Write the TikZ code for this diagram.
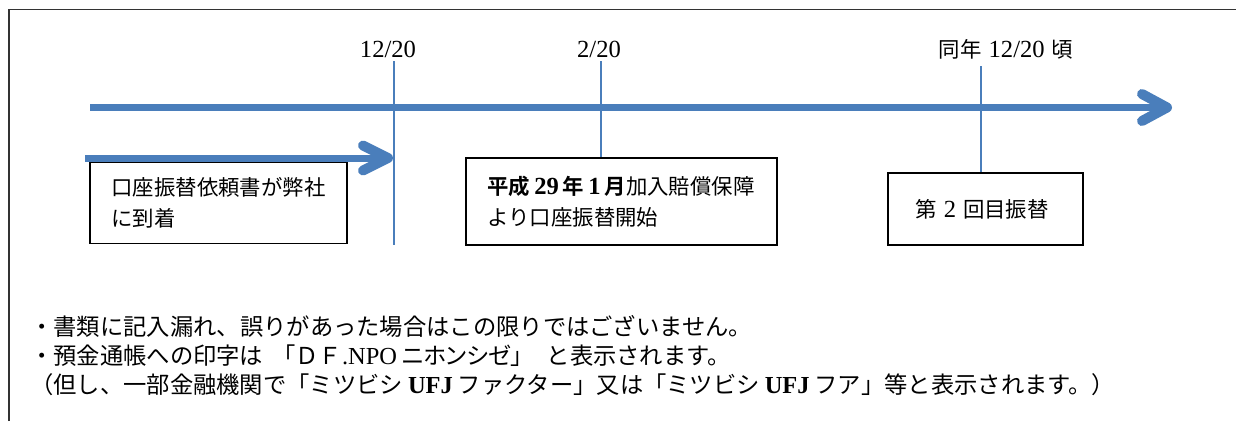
\documentclass[tikz,border=0pt]{standalone}
\usepackage{fontspec}
\setmainfont{Noto Sans CJK JP}[BoldFont={Noto Sans CJK JP Bold}]
\newfontfamily\lt{Liberation Serif}[Scale=1.15]
\newfontfamily\ltn{Liberation Serif}[Scale=1.05]
\newcommand\prop{\addfontfeature{RawFeature=+palt}}
\usetikzlibrary{calc}
\definecolor{tlblue}{RGB}{74,126,187}
\tikzset{
  frame/.style={line width=1.3pt, draw=black!80},
  shaft/.style={line width=7pt, draw=tlblue},
  barb/.style={line width=10pt, draw=tlblue, line cap=round, line join=round},
  tick/.style={line width=2pt, draw=tlblue},
  box/.style={draw=black, line width=1.6pt, inner sep=0pt, font=\fontsize{21.4}{31}\selectfont},
  lbl/.style={inner sep=0pt, font=\fontsize{21.4}{26}\selectfont},
  note/.style={inner sep=0pt, anchor=base west, font=\fontsize{23.3}{30}\selectfont},
}
\begin{document}
\begin{tikzpicture}[x=1pt,y=-1pt]
\useasboundingbox (0,0) rectangle (1236,421);
% outer frame (left and top edges)
\coordinate (fbl) at (9,421);
\coordinate (ftl) at (9,9.5);
\coordinate (ftr) at (1236,9.5);
\draw[frame] (fbl) -- (ftl) -- (ftr);

% boxes
\node[box, minimum width=257, minimum height=81, text width=214, align=left] (b1) at (218.5,203)
  {口座振替依頼書が弊社\\に到着};
\node[box, minimum width=311, minimum height=87, text width=268, align=left] (b2) at (621.5,201.5)
  {{\bfseries 平成{\lt\kern4pt 29\kern4pt}年{\lt\kern4pt 1\kern4pt}月}加入賠償保障\\より口座振替開始};
\node[box, minimum width=195, minimum height=72, align=center] (b3) at (985.5,209)
  {第{\lt\kern7pt 2\kern7pt}回目振替\kern7pt};

% main timeline arrow
\coordinate (a1s) at (90,107.5);
\coordinate (a1t) at (1167,107.5);
\draw[shaft] (a1s) -- (a1t);
\draw[barb] ($(a1t)+(-25,-13.5)$) -- (a1t) -- ($(a1t)+(-25,13.5)$);

% arrival arrow
\coordinate (a2s) at (85,158);
\coordinate (a2t) at (388,158);
\draw[shaft] (a2s) -- (a2t);
\draw[barb] ($(a2t)+(-25,-12.5)$) -- (a2t) -- ($(a2t)+(-25,12.5)$);

% date labels
\node[lbl, anchor=base] (l1) at (388,57) {{\lt 12/20}};
\node[lbl, anchor=base] (l2) at (599,57) {{\lt 2/20}};
\node[lbl, anchor=base] (l3) at (1006,57) {同年{\lt\kern7pt 12/20\kern7pt}頃};

% ticks
\coordinate (t1) at (394,61);
\coordinate (t1b) at (394,245);
\draw[tick] (t1) -- (t1b);
\coordinate (t2) at (601,61);
\draw[tick] (t2) -- (t2 |- b2.north);
\coordinate (t3) at (981,66);
\draw[tick] (t3) -- (t3 |- b3.north);

% notes
\node[note] (n1) at (30,335) {・書類に記入漏れ、誤りがあった場合はこの限りではございません。};
\node[note] (n2) at (30,364) {・預金通帳への印字は\kern9pt「ＤＦ{\ltn .NPO}\kern5pt {\prop ニホンシゼ」}\kern24pt と表示されます。};
\node[note] (n3) at (30,393) {（但し、一部金融機関で「ミツビシ{\ltn\bfseries\kern5pt UFJ\kern5pt}ファクター」又は「ミツビシ{\ltn\bfseries\kern5pt UFJ\kern5pt}フア」等と表示されます。）};
\end{tikzpicture}
\end{document}
